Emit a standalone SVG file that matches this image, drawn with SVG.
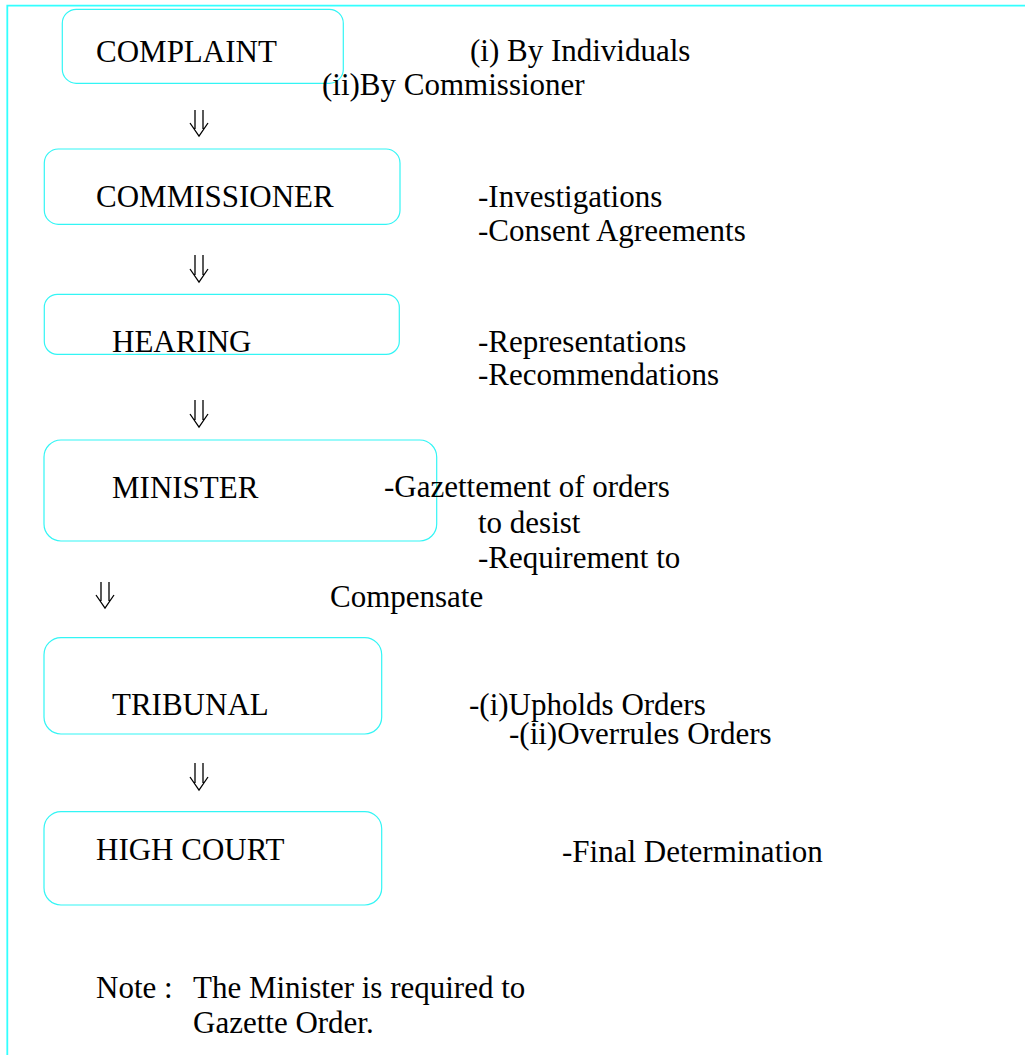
<svg xmlns="http://www.w3.org/2000/svg" width="1025" height="1055" viewBox="0 0 1025 1055">
<style>
.frame{fill:none;stroke:#33ffff;stroke-width:1.8}
.box{fill:none;stroke:#33f5f5;stroke-width:1.2}
.t{font-family:"Liberation Serif","Times New Roman",serif;font-size:31px;fill:#000}
.arr{fill:none;stroke:#000;stroke-width:1.3}
</style>
<rect width="1025" height="1055" fill="#fff"/>
<path class="frame" d="M7.3,1055 V5.7 H1025"/>
<g id="complaint"><rect class="box" x="62.3" y="9.3" width="281" height="74" rx="14"/><text class="t" x="96" y="62">COMPLAINT</text></g>
<g id="commissioner"><rect class="box" x="44.3" y="149" width="355.7" height="75.3" rx="14"/><text class="t" x="96" y="207">COMMISSIONER</text></g>
<g id="hearing"><rect class="box" x="44.3" y="294.3" width="355" height="60" rx="13"/><text class="t" x="112" y="352">HEARING</text></g>
<g id="minister"><rect class="box" x="44" y="440" width="392.7" height="101" rx="17"/><text class="t" x="112" y="498">MINISTER</text></g>
<g id="tribunal"><rect class="box" x="44" y="637.7" width="337.7" height="96.3" rx="17"/><text class="t" x="112" y="715">TRIBUNAL</text></g>
<g id="highcourt"><rect class="box" x="44" y="811.7" width="337.7" height="93.3" rx="17"/><text class="t" x="96" y="860">HIGH COURT</text></g>
<g id="labels">
<text class="t" x="470" y="61">(i) By Individuals</text>
<text class="t" x="322" y="95">(ii)By Commissioner</text>
<text class="t" x="478" y="207">-Investigations</text>
<text class="t" x="478" y="241">-Consent Agreements</text>
<text class="t" x="478" y="352">-Representations</text>
<text class="t" x="478" y="385">-Recommendations</text>
<text class="t" x="384" y="497">-Gazettement of orders</text>
<text class="t" x="478" y="533">to desist</text>
<text class="t" x="478" y="568">-Requirement to</text>
<text class="t" x="330" y="607">Compensate</text>
<text class="t" x="469" y="715">-(i)Upholds Orders</text>
<text class="t" x="509" y="744">-(ii)Overrules Orders</text>
<text class="t" x="562" y="862">-Final Determination</text>
<text class="t" x="96" y="998">Note :</text>
<text class="t" x="193" y="998">The Minister is required to</text>
<text class="t" x="193" y="1033">Gazette Order.</text>
</g>
<g id="connectors">
<path class="arr" d="M195,110 V129 M203,110 V129 M190,123 L199,136 L208,123"/>
<path class="arr" d="M195,255 V275 M203,255 V275 M190,269 L199,282 L208,269"/>
<path class="arr" d="M195,400 V420 M203,400 V420 M190,414 L199,427 L208,414"/>
<path class="arr" d="M101,582 V601 M109,582 V601 M96,595 L105,608 L114,595"/>
<path class="arr" d="M195,763 V783 M203,763 V783 M190,777 L199,790 L208,777"/>
</g>
</svg>
